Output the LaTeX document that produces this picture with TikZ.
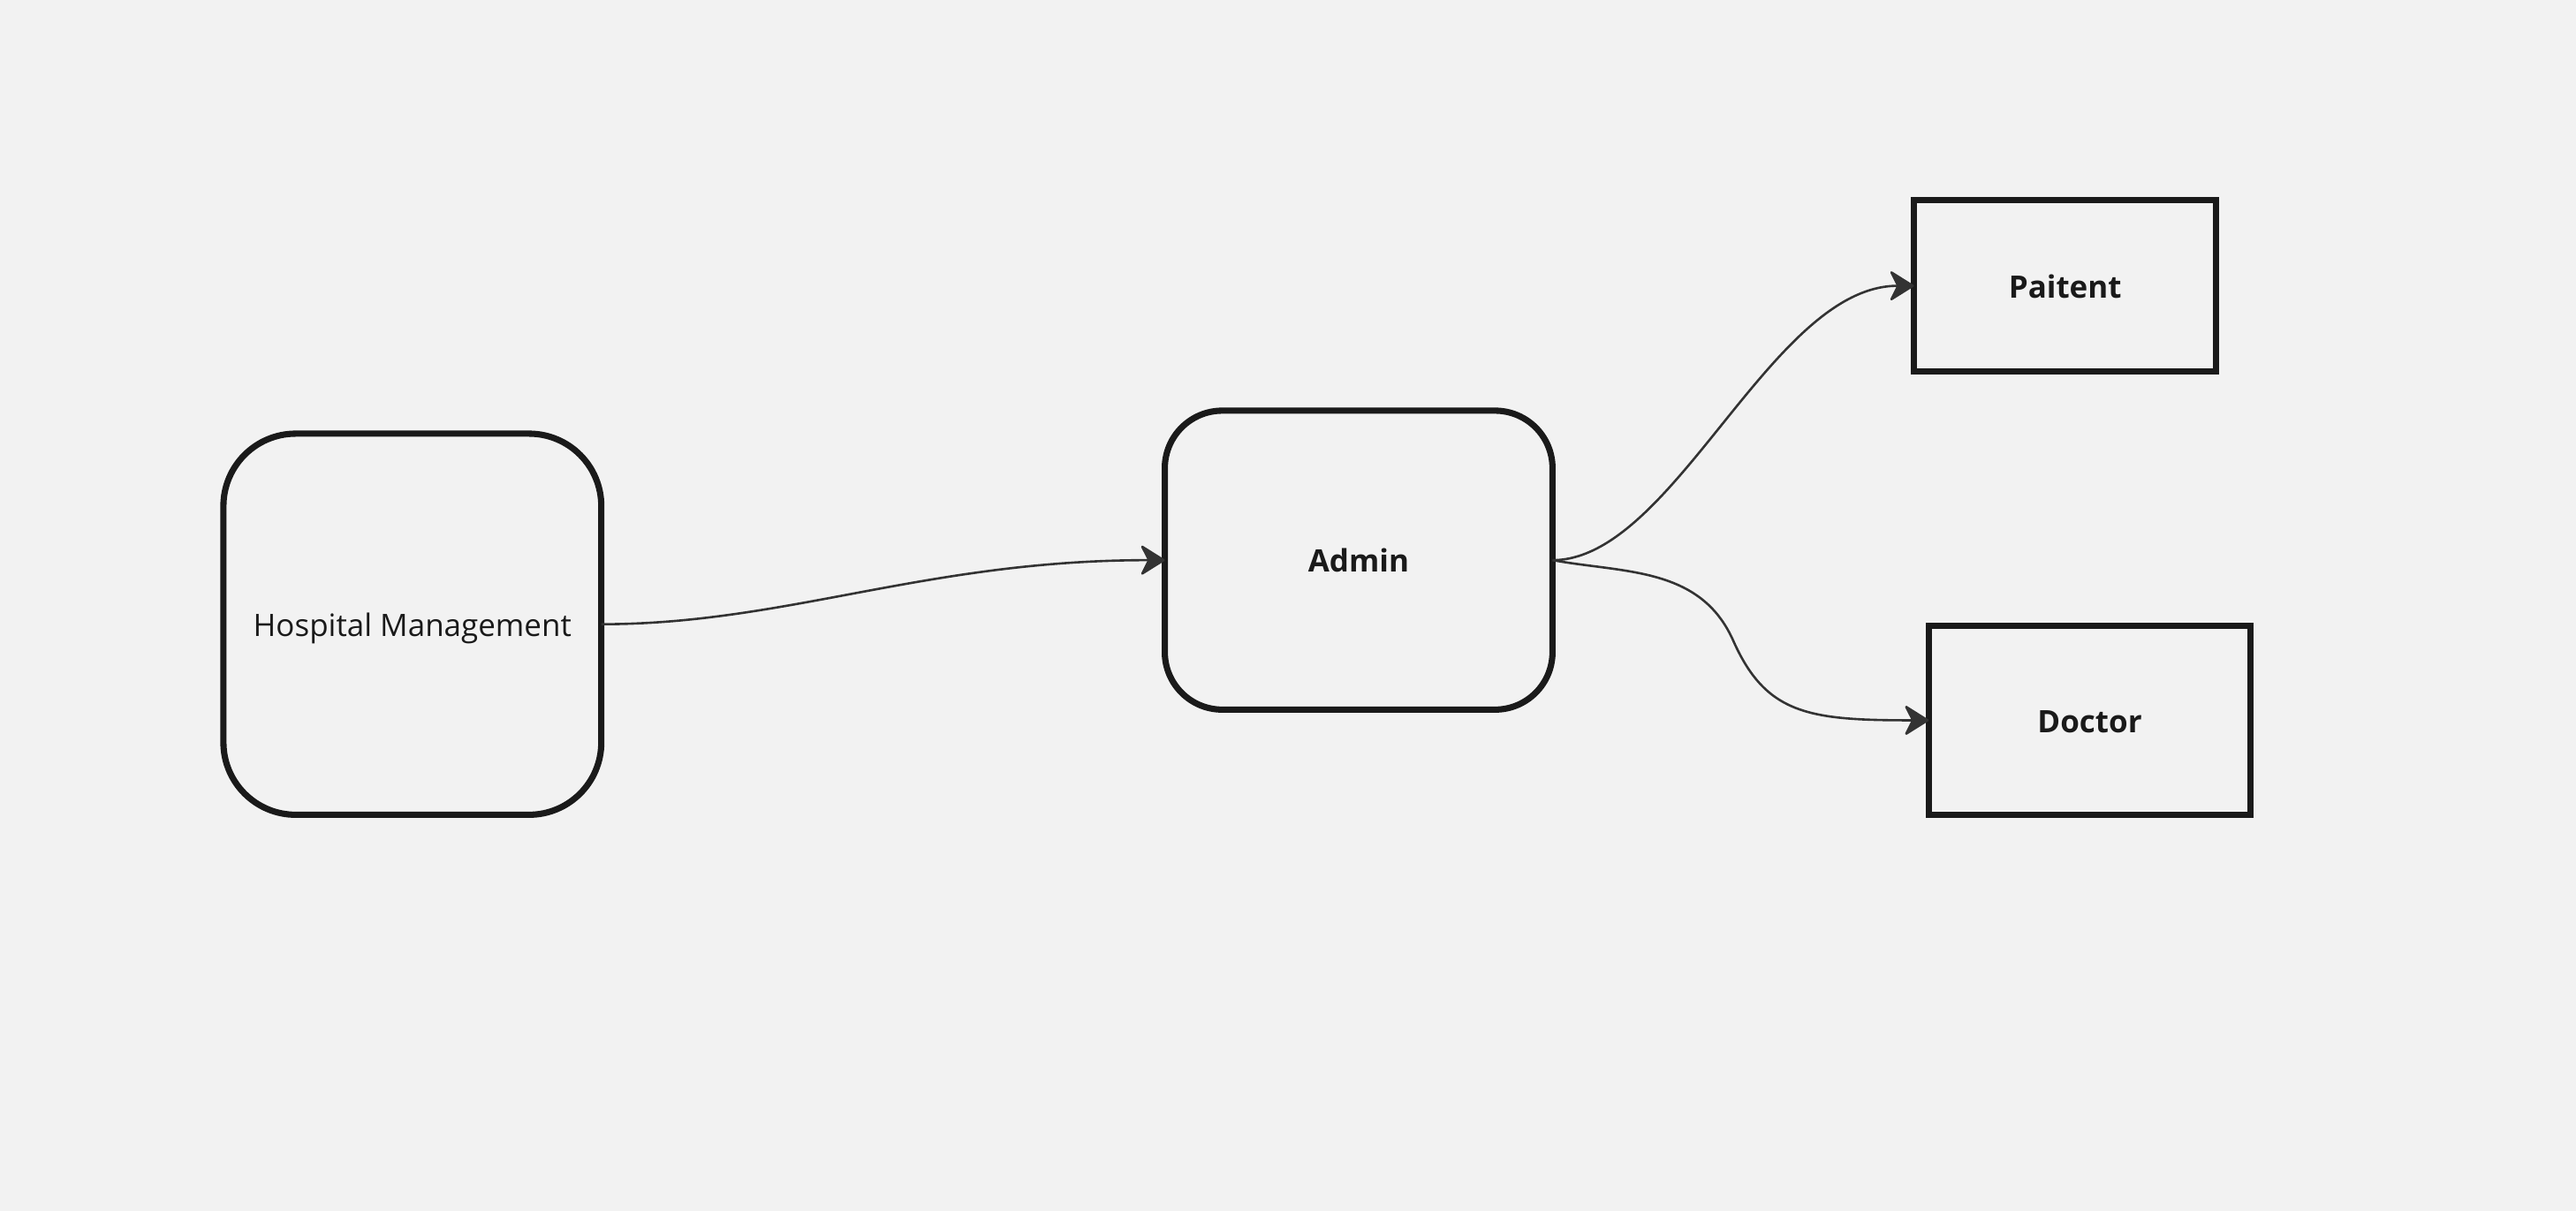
\documentclass[tikz,border=0pt]{standalone}
\usepackage{fontspec}
\setmainfont{Open Sans}
\usetikzlibrary{arrows.meta}
\definecolor{bg}{HTML}{F2F2F2}
\definecolor{ink}{HTML}{1A1A1A}
\definecolor{wire}{HTML}{333333}
\begin{document}
\begin{tikzpicture}[x=0.5pt,y=-0.5pt,
  every node/.style={inner sep=0pt,outer sep=0pt,text=ink,text height=7.4pt,text depth=0pt,font=\fontsize{9.4pt}{11pt}\selectfont},
  boldtext/.style={font=\fontsize{9.4pt}{11pt}\selectfont\bfseries},
  roundbox/.style={draw=ink,fill=bg,line width=1.9pt,rounded corners=#1},
  squarebox/.style={draw=ink,fill=bg,line width=1.9pt},
  wirearrow/.style={draw=wire,line width=0.7pt,-{Stealth[round,length=8pt,width=10pt,inset=2.5pt]}}]
\fill[bg] (0,0) rectangle (1568,737);
\useasboundingbox (0,0) rectangle (1568,737);
\node[roundbox=22pt,minimum width=115pt,minimum height=116pt] (hm) at (251,380) {Hospital Management};
\node[roundbox=17.5pt,minimum width=118pt,minimum height=91pt,boldtext] (ad) at (827,341) {Admin};
\node[squarebox,minimum width=92pt,minimum height=52pt,boldtext] (pa) at (1257,174) {Paitent};
\node[squarebox,minimum width=98pt,minimum height=57.5pt,boldtext] (doc) at (1272,438.5) {Doctor};
\coordinate (dmid) at (1055,390);
\draw[wirearrow] (hm.east) .. controls +(113,0) and +(-146,0) .. (ad.west);
\draw[wirearrow] (ad.east) .. controls +(74,0) and +(-87,0) .. (pa.west);
\draw[wirearrow] (ad.east) .. controls +(44,8) and +(-20,-45) .. (dmid) .. controls +(20,45) and +(-73,0) .. (doc.west);
\end{tikzpicture}
\end{document}
